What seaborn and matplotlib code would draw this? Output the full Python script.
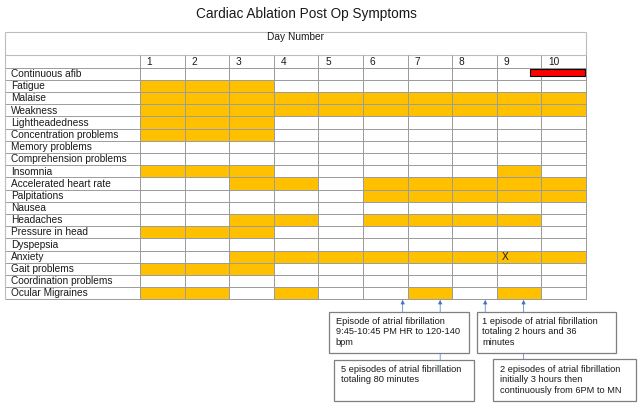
import numpy as np
import matplotlib
matplotlib.use("Agg")
import matplotlib.pyplot as plt
import seaborn as sns
from matplotlib.colors import ListedColormap
from matplotlib.patches import Rectangle

# Symptom table data (day numbers where symptom was present)
symptoms = [
    "Continuous afib", "Fatigue", "Malaise", "Weakness", "Lightheadedness",
    "Concentration problems", "Memory problems", "Comprehension problems",
    "Insomnia", "Accelerated heart rate", "Palpitations", "Nausea",
    "Headaches", "Pressure in head", "Dyspepsia", "Anxiety", "Gait problems",
    "Coordination problems", "Ocular Migraines",
]
active_days = [
    [],
    [1, 2, 3],
    [1, 2, 3, 4, 5, 6, 7, 8, 9, 10],
    [1, 2, 3, 4, 5, 6, 7, 8, 9, 10],
    [1, 2, 3],
    [1, 2, 3],
    [],
    [],
    [1, 2, 3, 9],
    [3, 4, 6, 7, 8, 9, 10],
    [6, 7, 8, 9, 10],
    [],
    [3, 4, 6, 7, 8, 9],
    [1, 2, 3],
    [],
    [3, 4, 5, 6, 7, 8, 9, 10],
    [1, 2, 3],
    [],
    [1, 2, 4, 7, 9],
]
day_labels = ["1", "2", "3", "4", "5", "6", "7", "8", "9", "10"]

# continuous afib bar (day position, start/end)
afib_start = 9.74
afib_end = 10.98

# "X" mark
x_mark_symptom = "Anxiety"
x_mark_day = 9

# afib episode callouts: arrow day position and note text
episode_days = [6.89, 7.73, 8.74, 9.6]
episode_notes = [
    "Episode of atrial fibrillation\n9:45-10:45 PM HR to 120-140\nbpm",
    "5 episodes of atrial fibrillation\ntotaling 80 minutes",
    "1 episode of atrial fibrillation\ntotaling 2 hours and 36\nminutes",
    "2 episodes of atrial fibrillation\ninitially 3 hours then\ncontinuously from 6PM to MN",
]

YELLOW = "#FFC000"
GRID = "#9c9c9c"
TXT = "#1a1a1a"
FONT = "Liberation Sans"

matrix = np.zeros((len(symptoms), len(day_labels)))
for i, days in enumerate(active_days):
    for d in days:
        matrix[i, d - 1] = 1

W, H = 640, 411
fig = plt.figure(figsize=(6.4, 4.11), dpi=100)
plt.rcParams["font.family"] = [FONT, "DejaVu Sans"]

def fx(px):
    return px / W

def fy(py):
    return 1 - py / H

# table axes: pixels 5..586 horizontally, 31.7..299.3 vertically
label_w = 3.027
top_y = -2.95
ax = fig.add_axes([fx(5), fy(299.3), (586 - 5) / W, (299.3 - 31.7) / H])

sns.heatmap(matrix, ax=ax, cmap=ListedColormap(["white", YELLOW]), vmin=0, vmax=1,
            cbar=False, linewidths=0.7, linecolor=GRID,
            xticklabels=False, yticklabels=False)
ax.collections[0].set_clip_on(False)
ax.set_xlim(-label_w, 10)
ax.set_ylim(len(symptoms), top_y)
ax.set_xticks([])
ax.set_yticks([])
for s in ax.spines.values():
    s.set_visible(False)

n = len(symptoms)
ax.hlines(range(0, n + 1), -label_w, 0, color=GRID, lw=0.7, clip_on=False)
ax.vlines(-label_w, top_y, n, color="#bdbdbd", lw=0.8, clip_on=False)
ax.hlines([top_y, -1], -label_w, 10, color="#bdbdbd", lw=0.8, clip_on=False)
ax.vlines(range(0, 11), -1, 0, color=GRID, lw=0.7, clip_on=False)
ax.vlines(10, top_y, -1, color="#bdbdbd", lw=0.8, clip_on=False)

ax.text((10 - label_w) / 2, -2.52, "Day Number", ha="center", va="center",
        fontsize=7.3, color=TXT)
for j, lab in enumerate(day_labels):
    ax.text(j + 0.15, -0.5, lab, ha="left", va="center", fontsize=7.3, color=TXT)
for i, lab in enumerate(symptoms):
    ax.text(-label_w + 0.13, i + 0.52, lab, ha="left", va="center",
            fontsize=7.3, color=TXT)

# continuous afib bar
row = symptoms.index("Continuous afib")
ax.barh(row + 0.41, afib_end - afib_start, left=afib_start - 1, height=0.6,
        color="#FF0000", edgecolor="black", linewidth=0.8, zorder=5)

ax.text(x_mark_day - 1 + 0.12, symptoms.index(x_mark_symptom) + 0.52, "X",
        ha="left", va="center", fontsize=7.3, color=TXT)

# callout boxes (pixel layout)
boxes = [
    (329, 311.7, 469, 352.7),
    (334, 360, 474, 400.7),
    (476.7, 311.7, 615.7, 352.7),
    (493.3, 359.3, 635.7, 400.7),
]
text_pos = [(335.7, 316.5), (340.7, 364.5), (482.3, 316.5), (500, 364.5)]

for k, (x, note) in enumerate(zip(episode_days, episode_notes)):
    x0, y0, x1, y1 = boxes[k]
    tail_y = (y0 - 67.7) / 12.19
    ax.annotate("", xy=(x - 1, n + 0.05), xytext=(x - 1, tail_y),
                arrowprops=dict(arrowstyle="-|>", color="#4472C4", lw=0.5,
                                mutation_scale=6, shrinkA=0, shrinkB=0),
                annotation_clip=False)
    fig.add_artist(Rectangle((fx(x0), fy(y1)), (x1 - x0) / W, (y1 - y0) / H,
                             transform=fig.transFigure, facecolor="white",
                             edgecolor="#7f7f7f", lw=0.9, zorder=2))
    tx, ty = text_pos[k]
    fig.text(fx(tx), fy(ty), note, ha="left", va="top", fontsize=6.7,
             color=TXT, linespacing=1.25, zorder=3)

fig.text(fx(306), fy(14), "Cardiac Ablation Post Op Symptoms", ha="center",
         va="center", fontsize=9.8, color=TXT)

fig.savefig("out.png", dpi=100)
